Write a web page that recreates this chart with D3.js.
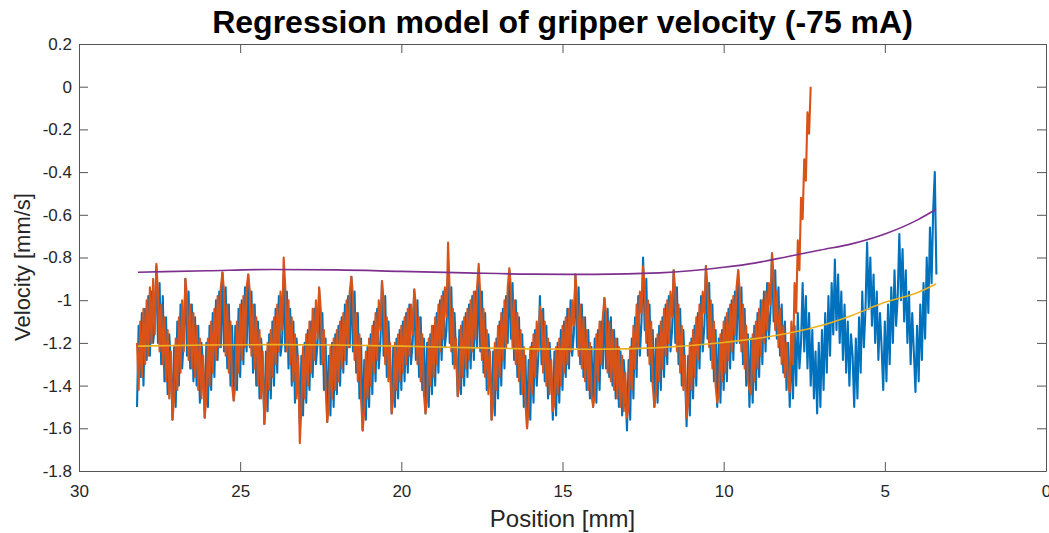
<!DOCTYPE html>
<html>
<head>
<meta charset="utf-8">
<script src="https://cdn.jsdelivr.net/npm/d3@7"></script>
<style>
  body { margin: 0; background: #fff; }
  svg { display: block; font-family: "Liberation Sans", Arial, Helvetica, sans-serif; }
</style>
</head>
<body>
<svg id="chart"></svg>
<script>
// measured velocity, sampled every 0.05 mm, going from 28.2 mm down towards 0
const sampleStart = 28.2, sampleStep = 0.05;

const blueVelocity = [
  -1.50, -1.12, -1.36, -1.06, -1.40, -1.04, -1.28, -0.98, -1.26, -0.96, -1.20, -1.12, -0.84,
  -1.20, -0.92, -1.30, -0.98, -1.38, -1.08, -1.44, -1.16, -1.30, -1.56,
  -1.22, -1.50, -1.10, -1.40, -1.02, -1.32, -1.18, -0.90,
  -1.26, -0.96, -1.32, -1.02, -1.38, -1.08, -1.40, -1.12, -1.48, -1.20, -1.30, -1.55,
  -1.20, -1.50, -1.12, -1.42, -1.06, -1.36, -1.00, -1.28, -0.96, -1.22, -0.87,
  -1.24, -0.94, -1.32, -1.02, -1.40, -1.12, -1.47,
  -1.12, -1.42, -1.04, -1.36, -1.00, -1.30, -0.94, -1.24, -0.88,
  -1.22, -0.96, -1.34, -1.02, -1.40, -1.10, -1.46, -1.18, -1.30, -1.58,
  -1.24, -1.52, -1.16, -1.46, -1.10, -1.40, -1.04, -1.34, -0.98, -1.26, -1.20, -0.88,
  -1.24, -0.96, -1.32, -1.04, -1.40, -1.10, -1.48, -1.18, -1.30, -1.58,
  -1.26, -1.54, -1.20, -1.48, -1.14, -1.42, -1.10, -1.36, -1.04, -1.30, -1.20, -0.95,
  -1.30, -1.06, -1.42, -1.18, -1.57,
  -1.26, -1.54, -1.20, -1.50, -1.16, -1.44, -1.12, -1.40, -1.08, -1.34, -1.02, -1.30, -0.98, -1.22, -0.89,
  -1.24, -0.96, -1.34, -1.06, -1.46, -1.18, -1.61,
  -1.28, -1.56, -1.22, -1.50, -1.16, -1.44, -1.10, -1.38, -1.04, -1.32, -1.20, -0.91,
  -1.26, -0.98, -1.36, -1.10, -1.30, -1.53,
  -1.22, -1.50, -1.18, -1.46, -1.14, -1.42, -1.10, -1.38, -1.06, -1.34, -1.02, -1.30, -1.20, -0.95,
  -1.28, -1.00, -1.36, -1.08, -1.42, -1.18, -1.53,
  -1.20, -1.50, -1.16, -1.44, -1.12, -1.40, -1.06, -1.34, -1.00, -1.28, -0.96, -1.22, -1.14, -0.86,
  -1.20, -0.94, -1.30, -1.06, -1.26, -1.45,
  -1.14, -1.44, -1.10, -1.40, -1.06, -1.36, -1.02, -1.32, -0.98, -1.28, -0.96, -1.22, -0.90,
  -1.24, -0.96, -1.34, -1.06, -1.42, -1.16, -1.30, -1.56,
  -1.24, -1.54, -1.18, -1.46, -1.10, -1.40, -1.04, -1.32, -0.98, -1.20, -0.86,
  -1.18, -0.92, -1.28, -1.00, -1.36, -1.08, -1.44, -1.16, -1.50, -1.26, -1.60,
  -1.28, -1.56, -1.20, -1.48, -1.14, -1.40, -1.26, -0.98,
  -1.30, -1.04, -1.38, -1.12, -1.46, -1.20, -1.34, -1.56,
  -1.24, -1.54, -1.20, -1.48, -1.14, -1.42, -1.10, -1.36, -1.04, -1.32, -1.00, -1.26, -1.16, -0.88,
  -1.22, -0.94, -1.30, -1.02, -1.36, -1.08, -1.42, -1.14, -1.46, -1.22, -1.50,
  -1.18, -1.48, -1.14, -1.42, -1.10, -1.32, -0.99,
  -1.32, -1.04, -1.36, -1.08, -1.40, -1.14, -1.46, -1.18, -1.50, -1.24, -1.54, -1.28, -1.40, -1.61,
  -1.28, -1.56, -1.18, -1.46, -1.08, -1.36, -0.98, -1.26, -1.10, -0.80,
  -1.14, -0.90, -1.26, -1.02, -1.38, -1.14, -1.50,
  -1.18, -1.48, -1.12, -1.42, -1.08, -1.36, -1.02, -1.30, -0.98, -1.24, -1.14, -0.86,
  -1.20, -0.94, -1.30, -1.04, -1.40, -1.14, -1.34, -1.59,
  -1.26, -1.54, -1.18, -1.46, -1.12, -1.40, -1.06, -1.32, -0.98, -1.24, -1.12, -0.84,
  -1.18, -0.92, -1.28, -1.02, -1.38, -1.14, -1.50,
  -1.18, -1.48, -1.14, -1.42, -1.08, -1.38, -1.04, -1.32, -1.00, -1.28, -0.96, -1.20, -0.86,
  -1.20, -0.94, -1.30, -1.04, -1.40, -1.16, -1.50,
  -1.18, -1.48, -1.12, -1.42, -1.06, -1.36, -1.00, -1.30, -0.96, -1.24, -0.92, -1.18, -1.06, -0.78,
  -1.10, -0.86, -1.18, -0.94, -1.26, -1.02, -1.34, -1.10, -1.42, -1.20, -1.50,
  -1.18, -1.46, -1.12, -1.40, -1.06, -1.32, -1.20, -0.92,
  -1.24, -0.98, -1.32, -1.06, -1.40, -1.14, -1.46, -1.24, -1.53,
  -1.20, -1.50, -1.14, -1.42, -1.06, -1.34, -0.98, -1.26, -0.92, -1.16, -0.81,
  -1.14, -0.88, -1.20, -0.96, -1.28, -1.02, -1.34, -1.10, -1.40, -1.16, -1.26, -1.50,
  -1.18, -1.46, -1.08, -1.34, -0.96, -1.22, -1.04, -0.73,
  -1.04, -0.80, -1.12, -0.88, -1.20, -0.96, -1.28, -1.06, -1.22, -1.42,
  -1.10, -1.38, -1.02, -1.30, -0.94, -1.20, -0.86, -1.12, -0.98, -0.69,
  -1.00, -0.76, -1.10, -0.86, -1.20, -0.96, -1.30, -1.06, -1.24, -1.43,
  -1.12, -1.38, -1.02, -1.28, -0.92, -1.18, -0.80, -1.06, -0.66, -0.92, -0.58, -0.40,
  -0.88
];

const orangeVelocity = [
  -1.20, -1.42, -1.10, -1.36, -1.04, -1.30, -1.00, -1.26, -0.94, -1.20, -0.90, -1.16, -0.83,
  -0.96, -1.24, -1.02, -1.30, -1.08, -1.38, -1.14, -1.46, -1.24, -1.56,
  -1.46, -1.18, -1.42, -1.08, -1.34, -1.00, -1.24, -0.90,
  -0.98, -1.28, -1.02, -1.32, -1.06, -1.36, -1.12, -1.42, -1.18, -1.46, -1.26, -1.55,
  -1.46, -1.18, -1.40, -1.10, -1.34, -1.04, -1.28, -0.98, -1.22, -0.94, -0.87,
  -0.96, -1.26, -1.02, -1.34, -1.10, -1.40, -1.47,
  -1.40, -1.10, -1.34, -1.02, -1.28, -0.98, -1.22, -0.94, -0.88,
  -0.96, -1.26, -1.02, -1.32, -1.08, -1.40, -1.14, -1.46, -1.24, -1.58,
  -1.48, -1.20, -1.42, -1.14, -1.36, -1.08, -1.30, -1.02, -1.24, -0.96, -1.14, -0.80,
  -0.94, -1.24, -1.00, -1.30, -1.08, -1.38, -1.16, -1.46, -1.26, -1.67,
  -1.50, -1.22, -1.46, -1.16, -1.40, -1.10, -1.34, -1.04, -1.28, -1.00, -1.18, -0.94,
  -1.04, -1.30, -1.14, -1.40, -1.57,
  -1.50, -1.22, -1.46, -1.18, -1.42, -1.14, -1.38, -1.10, -1.32, -1.06, -1.28, -1.00, -1.22, -0.96, -0.89,
  -0.98, -1.28, -1.06, -1.38, -1.16, -1.46, -1.61,
  -1.52, -1.24, -1.46, -1.18, -1.40, -1.12, -1.34, -1.06, -1.28, -1.00, -1.14, -0.91,
  -1.00, -1.30, -1.08, -1.38, -1.20, -1.53,
  -1.46, -1.20, -1.42, -1.16, -1.38, -1.12, -1.34, -1.08, -1.30, -1.04, -1.26, -1.02, -1.16, -0.95,
  -1.02, -1.30, -1.08, -1.38, -1.16, -1.44, -1.53,
  -1.46, -1.18, -1.40, -1.12, -1.36, -1.08, -1.30, -1.02, -1.24, -0.98, -1.18, -0.94, -1.08, -0.73,
  -0.96, -1.24, -1.04, -1.32, -1.18, -1.45,
  -1.40, -1.12, -1.36, -1.08, -1.32, -1.04, -1.28, -1.00, -1.24, -0.96, -1.18, -0.94, -0.83,
  -0.98, -1.28, -1.04, -1.36, -1.14, -1.44, -1.24, -1.56,
  -1.48, -1.20, -1.42, -1.12, -1.36, -1.06, -1.28, -1.00, -1.22, -0.94, -0.85,
  -0.94, -1.22, -1.00, -1.30, -1.06, -1.38, -1.14, -1.44, -1.22, -1.48, -1.60,
  -1.50, -1.22, -1.44, -1.16, -1.36, -1.10, -1.24, -1.03,
  -1.06, -1.34, -1.10, -1.40, -1.18, -1.44, -1.28, -1.52,
  -1.48, -1.22, -1.44, -1.18, -1.40, -1.12, -1.34, -1.08, -1.30, -1.04, -1.24, -1.00, -1.12, -0.88,
  -0.98, -1.26, -1.02, -1.32, -1.08, -1.38, -1.14, -1.42, -1.20, -1.44, -1.50,
  -1.44, -1.16, -1.38, -1.10, -1.30, -1.08, -0.99,
  -1.06, -1.34, -1.10, -1.38, -1.14, -1.42, -1.18, -1.46, -1.22, -1.50, -1.26, -1.52, -1.34, -1.55,
  -1.50, -1.22, -1.42, -1.12, -1.32, -1.02, -1.22, -0.96, -1.06, -0.84,
  -0.94, -1.20, -1.00, -1.30, -1.10, -1.40, -1.50,
  -1.44, -1.16, -1.38, -1.10, -1.32, -1.04, -1.26, -1.00, -1.20, -0.96, -1.08, -0.86,
  -0.96, -1.24, -1.02, -1.34, -1.12, -1.42, -1.26, -1.55,
  -1.48, -1.20, -1.42, -1.14, -1.36, -1.08, -1.28, -1.02, -1.20, -0.96, -1.06, -0.84,
  -0.94, -1.22, -1.00, -1.32, -1.10, -1.40, -1.48,
  -1.44, -1.16, -1.38, -1.10, -1.34, -1.06, -1.28, -1.02, -1.24, -0.98, -1.16, -0.94, -0.86,
  -0.96, -1.24, -1.02, -1.32, -1.12, -1.38, -1.42,
  -1.44, -1.16, -1.38, -1.10, -1.32, -1.04, -1.26, -1.00, -1.20, -0.96, -1.14, -0.92, -1.02, -0.78,
  -0.90, -1.14, -0.96, -1.22, -1.04, -1.30, -1.12, -1.36, -1.20, -1.40, -1.43,
  -1.10, -1.30, -0.92, -1.06, -0.72, -0.86, -0.52, -0.62, -0.34, -0.44, -0.12, -0.22, 0.00
];

// regression fits
const fitPosition = [28.17, 26, 24, 22, 20, 18, 16, 14, 12, 10, 9, 8, 7, 6, 5, 4, 3.41];
const upperFit = [-0.869, -0.862, -0.856, -0.858, -0.865, -0.872, -0.878, -0.879, -0.872, -0.846, -0.825, -0.795, -0.765, -0.735, -0.69, -0.625, -0.574];
const lowerFit = [-1.215, -1.21, -1.208, -1.21, -1.215, -1.222, -1.228, -1.23, -1.222, -1.198, -1.18, -1.155, -1.12, -1.07, -1.01, -0.965, -0.924];

const xTicks = [30, 25, 20, 15, 10, 5, 0];
const yTicks = [-1.8, -1.6, -1.4, -1.2, -1, -0.8, -0.6, -0.4, -0.2, 0, 0.2];

const width = 1049, height = 533;
const margin = {top: 44, right: 3, bottom: 62, left: 79};

const svg = d3.select("#chart")
    .attr("width", width)
    .attr("height", height);

const x = d3.scaleLinear().domain([30, 0]).range([margin.left, width - margin.right]);
const y = d3.scaleLinear().domain([-1.8, 0.2]).range([height - margin.bottom, margin.top]);

const toPoints = vals => vals.map((v, i) => [sampleStart - i * sampleStep, v]);

const line = d3.line()
    .x(d => x(d[0]))
    .y(d => y(d[1]));

const smooth = d3.line()
    .x(d => x(d[0]))
    .y(d => y(d[1]))
    .curve(d3.curveMonotoneX);

const plot = svg.append("g");

plot.append("path")
    .attr("d", line(toPoints(blueVelocity)))
    .attr("fill", "none")
    .attr("stroke", "#0072bd")
    .attr("stroke-width", 2.1)
    .attr("stroke-linejoin", "round");

plot.append("path")
    .attr("d", line(toPoints(orangeVelocity)))
    .attr("fill", "none")
    .attr("stroke", "#d95319")
    .attr("stroke-width", 2.1)
    .attr("stroke-linejoin", "round");

plot.append("path")
    .attr("d", smooth(fitPosition.map((p, i) => [p, upperFit[i]])))
    .attr("fill", "none")
    .attr("stroke", "#7e2f8e")
    .attr("stroke-width", 1.6);

plot.append("path")
    .attr("d", smooth(fitPosition.map((p, i) => [p, lowerFit[i]])))
    .attr("fill", "none")
    .attr("stroke", "#edb120")
    .attr("stroke-width", 1.6);

// axes: ticks point inwards, box on all four sides
const fmt = d => String(+d.toFixed(1));

function styleAxis(g) {
    g.select(".domain").attr("stroke", "#555").attr("stroke-width", 1);
    g.selectAll(".tick line").attr("stroke", "#555");
    g.selectAll(".tick text")
        .attr("fill", "#262626")
        .style("font-size", "17px")
        .style("font-family", "'Liberation Sans', Arial, Helvetica, sans-serif");
}

svg.append("g")
    .attr("transform", `translate(0,${height - margin.bottom})`)
    .call(d3.axisBottom(x).tickValues(xTicks).tickFormat(fmt).tickSizeInner(-9).tickSizeOuter(0).tickPadding(14))
    .call(styleAxis);

svg.append("g")
    .attr("transform", `translate(0,${margin.top})`)
    .call(d3.axisTop(x).tickValues(xTicks).tickFormat("").tickSizeInner(-9).tickSizeOuter(0))
    .call(styleAxis);

svg.append("g")
    .attr("transform", `translate(${margin.left},0)`)
    .call(d3.axisLeft(y).tickValues(yTicks).tickFormat(fmt).tickSizeInner(-9).tickSizeOuter(0).tickPadding(7))
    .call(styleAxis);

svg.append("g")
    .attr("transform", `translate(${width - margin.right},0)`)
    .call(d3.axisRight(y).tickValues(yTicks).tickFormat("").tickSizeInner(-9).tickSizeOuter(0))
    .call(styleAxis);

svg.append("text")
    .attr("x", (margin.left + width - margin.right) / 2)
    .attr("y", 33)
    .attr("text-anchor", "middle")
    .style("font-size", "32px")
    .style("font-weight", "bold")
    .text("Regression model of gripper velocity (-75 mA)");

svg.append("text")
    .attr("x", (margin.left + width - margin.right) / 2)
    .attr("y", 527)
    .attr("text-anchor", "middle")
    .attr("fill", "#262626")
    .style("font-size", "24px")
    .text("Position [mm]");

svg.append("text")
    .attr("transform", "translate(30,267) rotate(-90)")
    .attr("text-anchor", "middle")
    .attr("fill", "#262626")
    .style("font-size", "22px")
    .text("Velocity [mm/s]");
</script>
</body>
</html>
